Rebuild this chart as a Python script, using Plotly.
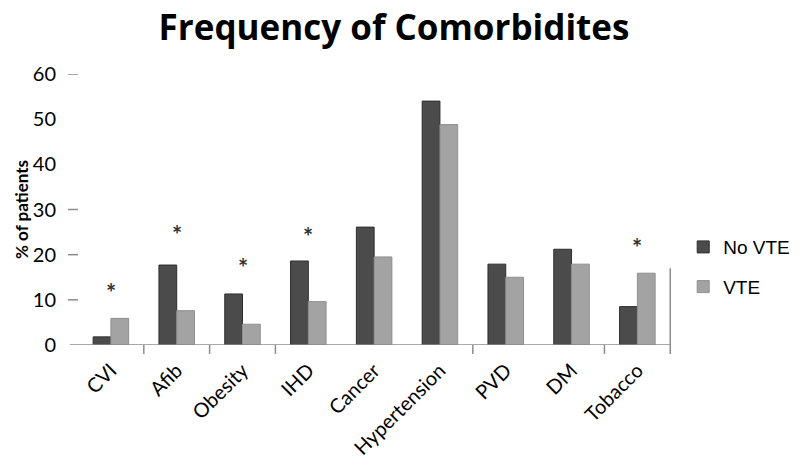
import plotly.graph_objects as go

categories = ["CVI", "Afib", "Obesity", "IHD", "Cancer", "Hypertension", "PVD", "DM", "Tobacco"]
no_vte = [1.8, 17.7, 11.3, 18.6, 26.1, 54.0, 17.9, 21.2, 8.5]
vte = [5.9, 7.6, 4.6, 9.6, 19.5, 48.8, 15.0, 17.9, 15.9]

# significance markers (category, height of the asterisk)
star_cats = ["CVI", "Afib", "Obesity", "IHD", "Tobacco"]
star_y = [12.5, 25.3, 18.0, 24.8, 22.4]

y_ticks = [0, 10, 20, 30, 40, 50, 60]
y_tick_marks = [10, 20, 30, 60]
x_tick_marks = [0.5, 1.5, 2.5, 5.5, 7.5, 8.5]

label_font = "Lato"
axis_grey = "#8c8c8c"

fig = go.Figure()
fig.add_trace(go.Bar(
    x=categories, y=no_vte, name="No VTE", legendgroup="a",
    marker=dict(color="#4b4b4b", line=dict(color="#2e2e2e", width=1)),
))
fig.add_trace(go.Bar(
    x=categories, y=vte, name="VTE", legendgroup="b",
    marker=dict(color="#a3a3a3", line=dict(color="#8f8f8f", width=1)),
))

for c, y in zip(star_cats, star_y):
    fig.add_annotation(x=c, y=y, text="*", showarrow=False,
                       font=dict(family=label_font, size=24, color="#333333", weight="bold"),
                       yanchor="middle", yshift=-4)

# y axis title placed by hand so the margins stay fixed
fig.add_annotation(text="% of patients", xref="paper", yref="paper", x=-0.1164, y=0.5,
                   textangle=-90, showarrow=False, xanchor="left", yanchor="middle",
                   font=dict(family=label_font, size=17, color="black", weight="bold"))

# axis line along the bottom, a bit longer on the left like the original
fig.add_shape(type="line", xref="paper", yref="y", x0=-0.014, x1=1.0, y0=0, y1=0,
              line=dict(color=axis_grey, width=1.5))
for t in y_tick_marks:
    fig.add_shape(type="line", xref="paper", yref="y", x0=-0.017, x1=0.0, y0=t, y1=t,
                  line=dict(color=axis_grey, width=1.5))
for t in x_tick_marks:
    top = 0.0
    if t == 8.5:
        top = 17 / 60
    fig.add_shape(type="line", xref="x", yref="paper", x0=t, x1=t, y0=-0.033, y1=top,
                  line=dict(color=axis_grey, width=1.5))

fig.update_layout(
    width=800, height=471,
    margin=dict(l=70, r=137, t=66, b=134),
    paper_bgcolor="white", plot_bgcolor="white",
    barmode="group", bargap=0.46, bargroupgap=0,
    title=dict(text="Frequency of Comorbidites", x=0.4825, xref="container", xanchor="center",
               y=0.958, yref="container", yanchor="middle",
               font=dict(family="Open Sans", size=35, color="black", weight="bold")),
    legend=dict(x=0.844, y=0.45, xref="container", yref="container",
                xanchor="left", yanchor="middle",
                font=dict(family="Liberation Sans", size=19, color="black"),
                traceorder="grouped", tracegroupgap=12, itemwidth=30),
    showlegend=True,
)
fig.update_xaxes(
    type="category", showline=False, ticks="", tickangle=-45, automargin=False,
    tickfont=dict(family=label_font, size=20, color="black"), ticklabelstandoff=9,
    showgrid=False, zeroline=False,
)
fig.update_yaxes(
    range=[0, 60], tickvals=y_ticks, ticks="", showline=False, showgrid=False, zeroline=False,
    automargin=False, ticklabelstandoff=21,
    tickfont=dict(family=label_font, size=20, color="black"),
)

fig.write_html("out.html")
